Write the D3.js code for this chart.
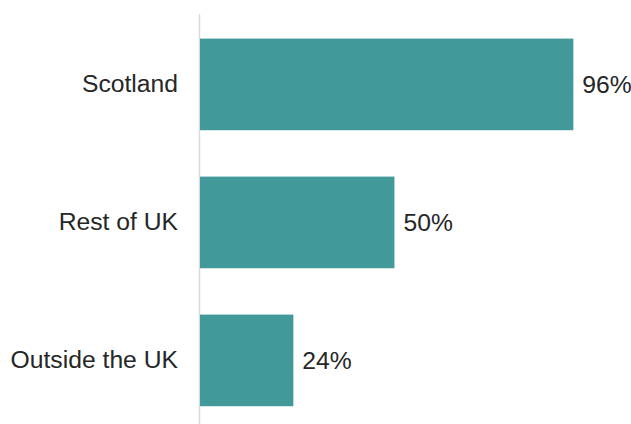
<!DOCTYPE html>
<html>
<head>
<meta charset="utf-8">
<script src="https://cdn.jsdelivr.net/npm/d3@7"></script>
<style>
  html, body { margin: 0; padding: 0; background: #ffffff; }
  svg { display: block; }
</style>
</head>
<body>
<svg id="chart" width="631" height="424"></svg>
<script>
// Share of respondents by location
const categories = ["Scotland", "Rest of UK", "Outside the UK"];
const values = [96, 50, 24];
const valueLabels = ["96%", "50%", "24%"];

const svg = d3.select("#chart");
const font = "'Liberation Sans', Arial, sans-serif";
const fontSize = 24.7;

const x = d3.scaleLinear().domain([0, 100]).range([200, 588.9]);
const y = d3.scaleBand()
  .domain(categories)
  .range([15.4, 429.4])
  .paddingInner(0.336)
  .paddingOuter(0.168);

// Vertical baseline
svg.append("line")
  .attr("x1", 199.5).attr("x2", 199.5)
  .attr("y1", 14).attr("y2", 424)
  .attr("stroke", "#d9d9d9")
  .attr("stroke-width", 1.5);

// Bars
svg.append("g")
  .selectAll("rect")
  .data(categories)
  .join("rect")
  .attr("x", x(0))
  .attr("y", d => y(d))
  .attr("width", (d, i) => x(values[i]) - x(0))
  .attr("height", y.bandwidth())
  .attr("fill", "#42999a");

// Category axis
const axis = svg.append("g")
  .attr("transform", `translate(${x(0)},0)`)
  .call(d3.axisLeft(y).tickSize(0).tickPadding(22));
axis.select(".domain").remove();
axis.selectAll("text")
  .attr("font-family", font)
  .attr("font-size", fontSize)
  .attr("fill", "#262626");

// Value labels
svg.append("g")
  .selectAll("text")
  .data(categories)
  .join("text")
  .attr("x", (d, i) => x(values[i]) + 9)
  .attr("y", d => y(d) + y.bandwidth() / 2)
  .attr("dy", "0.35em")
  .attr("font-family", font)
  .attr("font-size", fontSize)
  .attr("fill", "#262626")
  .text((d, i) => valueLabels[i]);
</script>
</body>
</html>
